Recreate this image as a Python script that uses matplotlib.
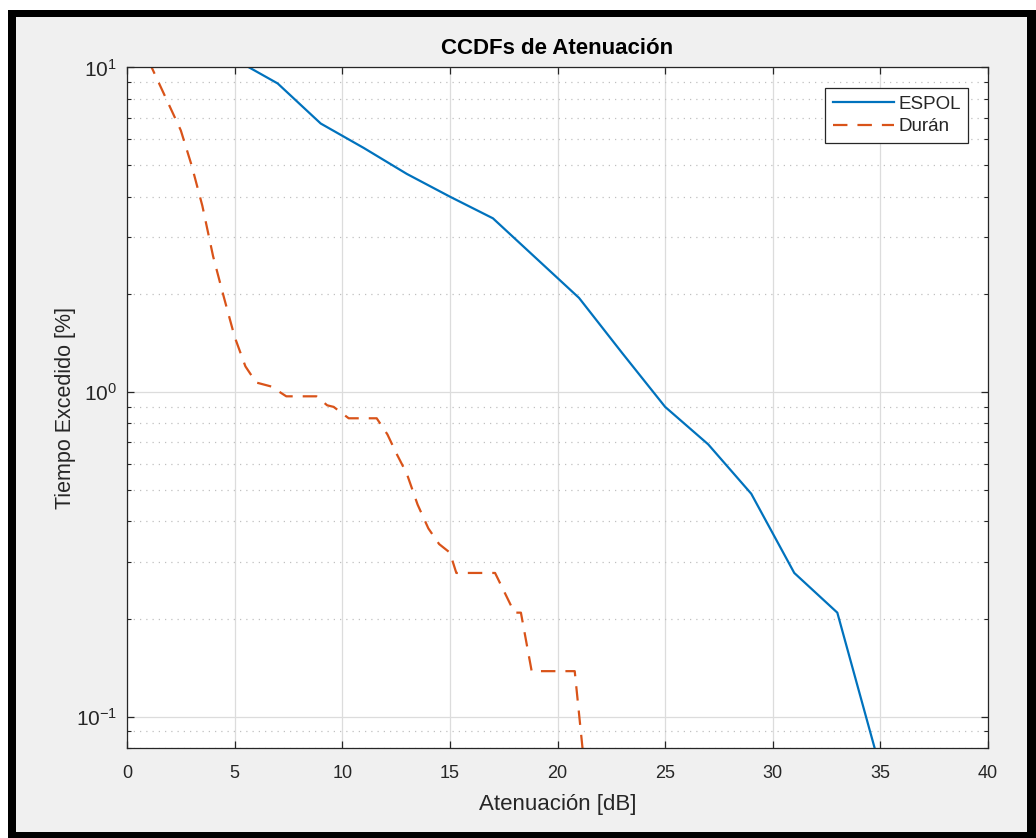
import numpy as np
import matplotlib
matplotlib.use("Agg")
import matplotlib.pyplot as plt
from matplotlib.patches import Rectangle
from matplotlib.ticker import LogLocator

plt.rcParams['font.family'] = ['Liberation Sans', 'DejaVu Sans']
plt.rcParams['mathtext.fontset'] = 'custom'
plt.rcParams['mathtext.rm'] = 'Liberation Sans'

## CCDF data
espol_att = [5, 7, 9, 11, 13, 15, 17, 21, 23, 25, 27, 29, 31, 33, 35]
espol_pct = [10.6, 8.93, 6.72, 5.65, 4.7, 4.0, 3.43, 1.95, 1.32, 0.90, 0.69, 0.486, 0.277, 0.209, 0.069]

duran_att = [1.0, 2.0, 2.5, 3.0, 3.5, 4.0, 4.5, 5.0, 5.5, 6.0, 6.7, 7.4, 8.8, 9.3, 9.6, 10.3,
             11.6, 12.1, 12.5, 13.0, 13.5, 14.0, 14.5, 15.0, 15.3, 17.1, 18.0, 18.3, 18.8,
             20.8, 21.25]
duran_pct = [10.5, 7.55, 6.4, 5.0, 3.75, 2.62, 1.96, 1.48, 1.2, 1.07, 1.04, 0.97, 0.97, 0.91, 0.90, 0.83,
             0.83, 0.74, 0.65, 0.56, 0.45, 0.38, 0.34, 0.32, 0.277, 0.277, 0.209, 0.209, 0.138,
             0.138, 0.07]

blue = '#0072BD'
orange = '#D95319'
txt = '#262626'

fig = plt.figure(figsize=(10.36, 8.38), dpi=100, facecolor='white')
# screenshot frame
fig.add_artist(Rectangle((8 / 1036, 0), 1, 828 / 838, transform=fig.transFigure,
                         facecolor='black', edgecolor='none', zorder=-2))
fig.add_artist(Rectangle((16 / 1036, 6.3 / 838), (1026.7 - 16) / 1036, (831.7 - 17) / 838,
                         transform=fig.transFigure, facecolor='#f0f0f0', edgecolor='none', zorder=-1))

ax = fig.add_axes([127 / 1036, 1 - 748 / 838, (988 - 127) / 1036, (748 - 67.5) / 838])
ax.plot(espol_att, espol_pct, color=blue, linewidth=1.6, label='ESPOL')
ax.plot(duran_att, duran_pct, color=orange, linewidth=1.6, linestyle=(0, (6.5, 4.5)), label='Durán')

ax.set_yscale('log')
ax.set_xlim(0, 40)
ax.set_ylim(0.08, 10)
ax.set_xticks(np.arange(0, 41, 5))
ax.yaxis.set_major_locator(LogLocator(base=10, numticks=10))
ax.yaxis.set_minor_locator(LogLocator(base=10, subs=np.arange(2, 10), numticks=10))
ax.yaxis.set_minor_formatter(plt.NullFormatter())

ax.grid(True, which='major', color='#dcdcdc', linewidth=0.9)
ax.grid(True, which='minor', axis='y', color='#c0c0c0', linestyle=(0, (1, 4)), linewidth=0.9)
ax.set_axisbelow(True)

ax.tick_params(which='both', direction='in', top=True, right=True, colors=txt, labelsize=13)
ax.tick_params(which='major', length=5, width=0.9, pad=12)
ax.tick_params(axis='y', which='major', labelsize=15, pad=7)
ax.tick_params(which='minor', length=3, width=0.8)
ax.tick_params(axis='x', which='minor', top=False, bottom=False)
for s in ax.spines.values():
    s.set_color(txt)
    s.set_linewidth(0.9)

ax.set_xlabel('Atenuación [dB]', fontsize=16, color=txt, labelpad=9)
ax.set_ylabel('Tiempo Excedido [%]', fontsize=15.5, color=txt, labelpad=0)
ax.set_title('CCDFs de Atenuación', fontsize=16, fontweight='bold', color='black', pad=10)

leg = ax.legend(loc='upper right', bbox_to_anchor=(0.977, 0.970), borderaxespad=0, fontsize=13.5,
                handlelength=3.3, handletextpad=0.2, borderpad=0.4, labelspacing=0.3, fancybox=False,
                framealpha=1, edgecolor=txt)
leg.get_frame().set_linewidth(0.9)
for t in leg.get_texts():
    t.set_color(txt)

fig.savefig('out.png', dpi=100, facecolor=fig.get_facecolor())
